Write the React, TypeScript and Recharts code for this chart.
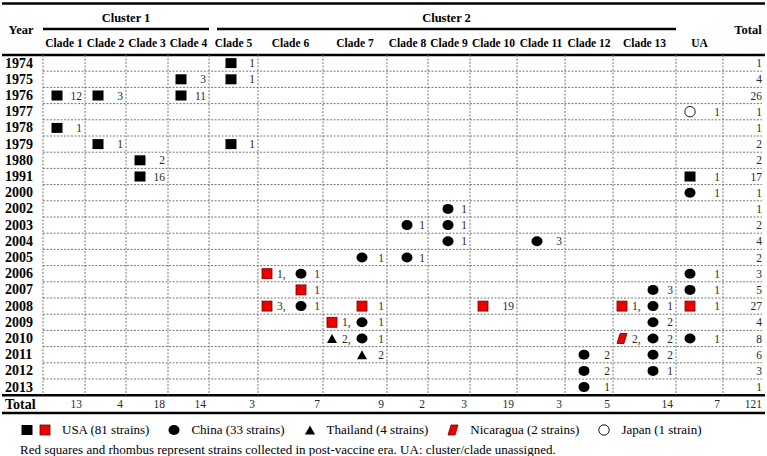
import React from 'react';
import { ScatterChart, Scatter, XAxis, YAxis, ReferenceLine, ReferenceDot } from 'recharts';

const years = ['1974', '1975', '1976', '1977', '1978', '1979', '1980', '1991', '2000', '2002', '2003',
  '2004', '2005', '2006', '2007', '2008', '2009', '2010', '2011', '2012', '2013'];
const columns = ['Clade 1', 'Clade 2', 'Clade 3', 'Clade 4', 'Clade 5', 'Clade 6', 'Clade 7', 'Clade 8',
  'Clade 9', 'Clade 10', 'Clade 11', 'Clade 12', 'Clade 13', 'UA'];
const clusters = [
  { label: 'Cluster 1', from: 'Clade 1', to: 'Clade 4' },
  { label: 'Cluster 2', from: 'Clade 5', to: 'Clade 13' },
];
const rowTotals = [1, 4, 26, 1, 1, 2, 2, 17, 1, 1, 2, 4, 2, 3, 5, 27, 4, 8, 6, 3, 1];
const columnTotals = [13, 4, 18, 14, 3, 7, 9, 2, 3, 19, 3, 5, 14, 7];
const grandTotal = 121;

// [year, column, number of strains]
type Entry = [string, string, number];
const usaPre: Entry[] = [
  ['1974', 'Clade 5', 1], ['1975', 'Clade 4', 3], ['1975', 'Clade 5', 1], ['1976', 'Clade 1', 12],
  ['1976', 'Clade 2', 3], ['1976', 'Clade 4', 11], ['1978', 'Clade 1', 1], ['1979', 'Clade 2', 1],
  ['1979', 'Clade 5', 1], ['1980', 'Clade 3', 2], ['1991', 'Clade 3', 16], ['1991', 'UA', 1],
];
const usaPost: Entry[] = [
  ['2006', 'Clade 6', 1], ['2007', 'Clade 6', 1], ['2008', 'Clade 6', 3], ['2008', 'Clade 7', 1],
  ['2008', 'Clade 10', 19], ['2008', 'Clade 13', 1], ['2008', 'UA', 1], ['2009', 'Clade 7', 1],
];
const china: Entry[] = [
  ['2000', 'UA', 1], ['2002', 'Clade 9', 1], ['2003', 'Clade 8', 1], ['2003', 'Clade 9', 1],
  ['2004', 'Clade 9', 1], ['2004', 'Clade 11', 3], ['2005', 'Clade 7', 1], ['2005', 'Clade 8', 1],
  ['2006', 'Clade 6', 1], ['2006', 'UA', 1], ['2007', 'Clade 13', 3], ['2007', 'UA', 1],
  ['2008', 'Clade 6', 1], ['2008', 'Clade 13', 1], ['2009', 'Clade 7', 1], ['2009', 'Clade 13', 2],
  ['2010', 'Clade 7', 1], ['2010', 'Clade 13', 2], ['2010', 'UA', 1], ['2011', 'Clade 12', 2],
  ['2011', 'Clade 13', 2], ['2012', 'Clade 12', 2], ['2012', 'Clade 13', 1], ['2013', 'Clade 12', 1],
];
const thailand: Entry[] = [['2010', 'Clade 7', 2], ['2011', 'Clade 7', 2]];
const nicaragua: Entry[] = [['2010', 'Clade 13', 2]];
const japan: Entry[] = [['1977', 'UA', 1]];

type Kind = 'usaPre' | 'usaPost' | 'china' | 'thailand' | 'nicaragua' | 'japan';
const legendItems: { kinds: Kind[]; label: string }[] = [
  { kinds: ['usaPre', 'usaPost'], label: 'USA (81 strains)' },
  { kinds: ['china'], label: 'China (33 strains)' },
  { kinds: ['thailand'], label: 'Thailand (4 strains)' },
  { kinds: ['nicaragua'], label: 'Nicaragua (2 strains)' },
  { kinds: ['japan'], label: 'Japan (1 strain)' },
];
const footnote = 'Red squares and rhombus represent strains collected in post-vaccine era. UA: cluster/clade unassigned.';

// layout
const W = 767;
const H = 456;
const FONT = '"Liberation Serif", "Times New Roman", serif';
const TABLE_LEFT = 43;
const TABLE_RIGHT = 762;
const colWidths = [42, 41, 42, 41, 49, 65, 64, 41, 42, 47, 48, 48, 63, 47];
const markerInset = [28, 28, 28, 28, 27, 22, 25, 21, 22, 34, 28, 29, 23, 33];
const colLeft = colWidths.map((_, i) => TABLE_LEFT + colWidths.slice(0, i).reduce((a, b) => a + b, 0));
const colRight = colLeft.map((l, i) => l + colWidths[i]);
const BODY_TOP = 55;
const ROW_H = 16.2;
const BODY_BOTTOM = BODY_TOP + years.length * ROW_H;
const TOTAL_BOTTOM = 413;
const TOTAL_Y = (BODY_BOTTOM + TOTAL_BOTTOM) / 2;
const rowY = (i: number) => BODY_TOP + (i + 0.5) * ROW_H;
const yTicks = [...years.map((_, i) => rowY(i)), TOTAL_Y];
const yLabels = [...years, 'Total'];
const yTotals = [...rowTotals, grandTotal];
const xTicks = columns.map((_, i) => (colLeft[i] + colRight[i]) / 2);

const toPoints = (list: Entry[], kind: Kind) =>
  list.map(([year, col, n]) => {
    const c = columns.indexOf(col);
    const shared = kind !== 'china' && china.some(([y2, c2]) => y2 === year && c2 === col);
    return {
      x: shared ? colLeft[c] + 9 : colRight[c] - markerInset[c],
      y: rowY(years.indexOf(year)),
      n,
      shared,
      numX: colRight[c] - 3,
      kind,
    };
  });

const series: { kind: Kind; data: Entry[] }[] = [
  { kind: 'usaPre', data: usaPre },
  { kind: 'usaPost', data: usaPost },
  { kind: 'china', data: china },
  { kind: 'thailand', data: thailand },
  { kind: 'nicaragua', data: nicaragua },
  { kind: 'japan', data: japan },
];

const totalPoints = columns.map((_, i) => ({ x: colRight[i] - 3, y: TOTAL_Y, n: columnTotals[i] }));

const Marker = ({ kind, cx, cy }: { kind: Kind; cx: number; cy: number }) => {
  switch (kind) {
    case 'usaPre':
      return <rect x={cx - 5.5} y={cy - 5} width={11} height={10} fill="#000" />;
    case 'usaPost':
      return <rect x={cx - 5} y={cy - 5} width={10} height={10} fill="#ee0000" stroke="#700000" strokeWidth={0.8} />;
    case 'china':
      return <ellipse cx={cx} cy={cy} rx={5.5} ry={5} fill="#000" />;
    case 'thailand':
      return <polygon points={`${cx - 5},${cy + 4.5} ${cx + 5},${cy + 4.5} ${cx},${cy - 4.5}`} fill="#000" />;
    case 'nicaragua':
      return (
        <polygon
          points={`${cx - 5},${cy + 5} ${cx + 2},${cy + 5} ${cx + 5},${cy - 5} ${cx - 2},${cy - 5}`}
          fill="#ee0000" stroke="#700000" strokeWidth={0.8}
        />
      );
    default:
      return <circle cx={cx} cy={cy} r={5.2} fill="#fff" stroke="#000" strokeWidth={0.9} />;
  }
};

const numStyle = { fontFamily: FONT, fontSize: 11.5, fill: '#2a2a2a' };

const renderMark = (props: any) => {
  const { cx, cy, payload } = props;
  const p = payload;
  return (
    <g>
      <Marker kind={p.kind} cx={cx} cy={cy} />
      {p.shared ? (
        <text x={cx + 10} y={cy + 4} textAnchor="start" {...numStyle}>{`${p.n},`}</text>
      ) : (
        <text x={cx + (p.numX - p.x)} y={cy + 4} textAnchor="end" {...numStyle}>{p.n}</text>
      )}
    </g>
  );
};

const renderTotal = (props: any) => (
  <text x={props.cx} y={props.cy + 4} textAnchor="end" {...numStyle}>{props.payload.n}</text>
);

const YearTick = (props: any) => {
  const i = yTicks.indexOf(props.payload.value);
  return (
    <text x={5} y={props.y + 4.5} textAnchor="start" fontFamily={FONT} fontSize={14} fontWeight="bold" fill="#000">
      {yLabels[i]}
    </text>
  );
};

const RowTotalTick = (props: any) => {
  const i = yTicks.indexOf(props.payload.value);
  return (
    <text x={TABLE_RIGHT} y={props.y + 4} textAnchor="end" {...numStyle}>{yTotals[i]}</text>
  );
};

const CladeTick = (props: any) => {
  const i = xTicks.indexOf(props.payload.value);
  return (
    <text x={props.x} y={47} textAnchor="middle" fontFamily={FONT} fontSize={11.5} fontWeight="bold" fill="#000">
      {columns[i]}
    </text>
  );
};

const headerLabel = (value: string) => ({
  value,
  position: 'center' as const,
  fill: '#000',
  fontSize: 12.5,
  fontWeight: 'bold',
  fontFamily: FONT,
});

const LegendIcon = ({ kind }: { kind: Kind }) => (
  <svg width={12} height={12} style={{ marginRight: 6 }}>
    <Marker kind={kind} cx={6} cy={6} />
  </svg>
);

const thick = { stroke: '#000', strokeWidth: 2.6 };
const dashed = { stroke: '#777', strokeWidth: 1, strokeDasharray: '2 1.5' };

export default function App() {
  return (
    <div style={{ position: 'absolute', left: 0, top: 0, width: W, height: H, background: '#fff' }}>
      <ScatterChart width={W} height={H} margin={{ top: 0, right: 0, bottom: 0, left: 0 }}>
        <XAxis
          type="number" dataKey="x" domain={[0, W]} allowDataOverflow orientation="top" mirror
          ticks={xTicks} interval={0} axisLine={false} tickLine={false} tick={<CladeTick />}
        />
        <YAxis
          yAxisId="left" type="number" dataKey="y" domain={[0, H]} reversed allowDataOverflow mirror
          ticks={yTicks} interval={0} axisLine={false} tickLine={false} tick={<YearTick />}
        />
        <YAxis
          yAxisId="right" orientation="right" type="number" dataKey="y" domain={[0, H]} reversed allowDataOverflow mirror
          ticks={yTicks} interval={0} axisLine={false} tickLine={false} tick={<RowTotalTick />}
        />

        {/* table rules */}
        {[3.5, BODY_TOP, BODY_BOTTOM, TOTAL_BOTTOM].map((y) => (
          <ReferenceLine key={`h${y}`} yAxisId="left" segment={[{ x: 2, y }, { x: 765, y }]} {...thick} />
        ))}
        {years.slice(1).map((_, i) => {
          const y = BODY_TOP + (i + 1) * ROW_H;
          return <ReferenceLine key={`r${i}`} yAxisId="left" segment={[{ x: TABLE_LEFT, y }, { x: TABLE_RIGHT, y }]} {...dashed} />;
        })}
        {[...colLeft, colRight[colRight.length - 1]].map((x) => (
          <ReferenceLine key={`v${x}`} yAxisId="left" segment={[{ x, y: BODY_TOP }, { x, y: BODY_BOTTOM }]} {...dashed} />
        ))}
        {clusters.map((c, i) => {
          const x1 = colLeft[columns.indexOf(c.from)] + (i === 0 ? 0 : 8);
          const x2 = colRight[columns.indexOf(c.to)];
          return (
            <ReferenceLine
              key={c.label} yAxisId="left" segment={[{ x: x1, y: 29 }, { x: x2, y: 29 }]} {...thick}
              label={{ ...headerLabel(c.label), position: 'top', offset: 7 }}
            />
          );
        })}
        <ReferenceDot yAxisId="left" x={21} y={30} r={0} fill="none" stroke="none" label={headerLabel('Year')} />
        <ReferenceDot yAxisId="left" x={748} y={30} r={0} fill="none" stroke="none" label={headerLabel('Total')} />

        {series.map((s) => (
          <Scatter
            key={s.kind} yAxisId="left" data={toPoints(s.data, s.kind)}
            shape={renderMark} isAnimationActive={false}
          />
        ))}
        <Scatter yAxisId="left" data={totalPoints} shape={renderTotal} isAnimationActive={false} />
      </ScatterChart>

      <div style={{ position: 'absolute', left: 21, top: 422, fontFamily: FONT, fontSize: 13, color: '#000', display: 'flex', alignItems: 'center' }}>
        {legendItems.map((item) => (
          <div key={item.label} style={{ display: 'flex', alignItems: 'center', marginRight: 19 }}>
            {item.kinds.map((k) => <LegendIcon key={k} kind={k} />)}
            <span style={{ marginLeft: 5 }}>{item.label}</span>
          </div>
        ))}
      </div>
      <div style={{ position: 'absolute', left: 20, top: 442, fontFamily: FONT, fontSize: 13, color: '#000' }}>
        {footnote}
      </div>
    </div>
  );
}
